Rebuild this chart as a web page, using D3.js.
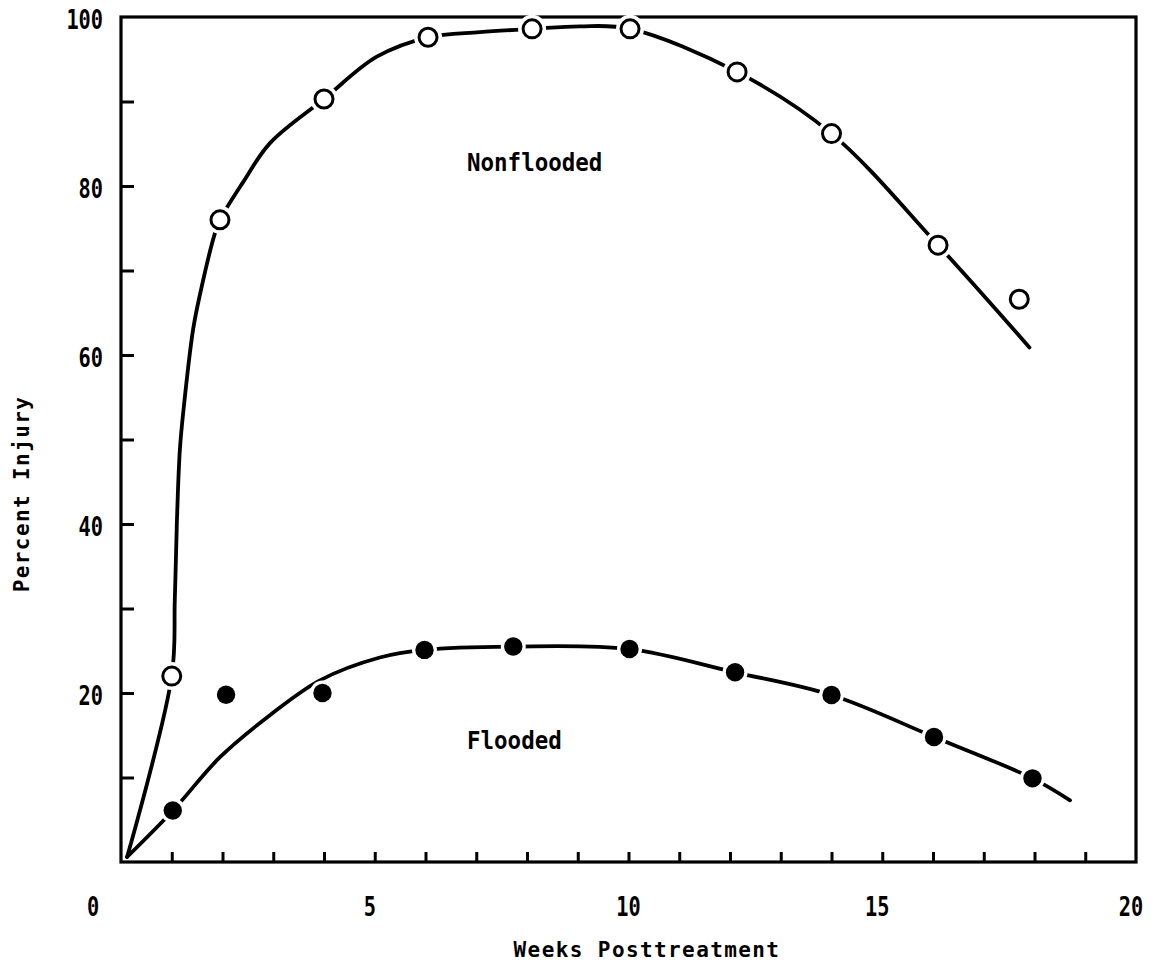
<!DOCTYPE html>
<html>
<head>
<meta charset="utf-8">
<script src="https://cdn.jsdelivr.net/npm/d3@7"></script>
<style>
  html, body { margin: 0; padding: 0; background: #fff; }
  svg { display: block; }
  text { font-family: "DejaVu Sans Mono", "Liberation Mono", monospace; font-weight: bold; fill: #000; }
</style>
</head>
<body>
<svg id="chart" width="1154" height="964"></svg>
<script>
// Observed injury (open circles = nonflooded, filled = flooded)
const nonfloodedWeeks  = [1.0, 1.95, 4.0, 6.05, 8.1, 10.03, 12.14, 14.0, 16.1, 17.7];
const nonfloodedInjury = [22.0, 76.0, 90.3, 97.6, 98.6, 98.6, 93.5, 86.2, 73.0, 66.6];
const floodedWeeks     = [1.02, 2.07, 3.97, 5.98, 7.73, 10.02, 12.1, 14.0, 16.02, 17.96];
const floodedInjury    = [6.1, 19.8, 20.0, 25.1, 25.5, 25.2, 22.45, 19.76, 14.8, 9.9];

// Hand-fitted response curves
const nonfloodedCurveWeeks  = [0.12, 1.0, 1.06, 1.1, 1.16, 1.24, 1.42, 1.55, 1.85, 1.95, 2.4, 2.94, 4.0, 5.04, 6.05, 7.07, 8.1, 9.04, 10.03, 12.14, 14.0, 16.1, 17.9];
const nonfloodedCurveInjury = [0.6, 22.0, 31.0, 40.0, 48.8, 54.0, 63.0, 67.0, 74.4, 76.0, 80.4, 85.1, 90.3, 95.3, 97.6, 98.2, 98.6, 98.9, 98.6, 93.5, 86.2, 73.0, 60.9];
const floodedCurveWeeks     = [0.12, 1.02, 1.95, 2.94, 3.92, 5.1, 5.98, 7.73, 10.02, 12.1, 14.0, 16.02, 17.96, 18.7];
const floodedCurveInjury    = [0.6, 6.07, 12.4, 17.4, 21.5, 24.2, 25.1, 25.5, 25.2, 22.45, 19.76, 14.8, 9.9, 7.3];

// Axis ticks and labels
const xMinorTicks = d3.range(1, 20);
const xTickLabels = [0, 5, 10, 15, 20];
const yMinorTicks = [10, 20, 30, 40, 50, 60, 70, 80, 90];
const yTickLabels = [20, 40, 60, 80, 100];

const svg = d3.select("#chart");
const plotLeft = 121, plotRight = 1136, plotTop = 17, plotBottom = 862;

const x = d3.scaleLinear().domain([0, 20]).range([plotLeft, plotRight]);
const y = d3.scaleLinear().domain([0, 100]).range([plotBottom, plotTop]);

// Inward tick marks
svg.append("g")
  .attr("transform", `translate(0,${plotBottom})`)
  .call(d3.axisBottom(x).tickValues(xMinorTicks).tickSizeInner(-10).tickSizeOuter(0).tickFormat(""))
  .call(g => g.select(".domain").remove())
  .call(g => g.selectAll(".tick line").attr("stroke", "#000").attr("stroke-width", 3));

svg.append("g")
  .attr("transform", `translate(${plotLeft},0)`)
  .call(d3.axisLeft(y).tickValues(yMinorTicks).tickSizeInner(-13).tickSizeOuter(0).tickFormat(""))
  .call(g => g.select(".domain").remove())
  .call(g => g.selectAll(".tick line").attr("stroke", "#000").attr("stroke-width", 3));

// Frame
svg.append("rect")
  .attr("x", x(0)).attr("y", y(100))
  .attr("width", x(20) - x(0)).attr("height", y(0) - y(100))
  .attr("fill", "none").attr("stroke", "#000").attr("stroke-width", 3.2);

// Condensed typewriter-style text helper
function label(g, txt, px, py, size, sx, anchor) {
  return g.append("text")
    .attr("transform", `translate(${px},${py}) scale(${sx},1)`)
    .attr("font-size", size)
    .attr("text-anchor", anchor)
    .attr("dominant-baseline", "central")
    .text(txt);
}

const labels = svg.append("g");
xTickLabels.forEach(v => {
  const dx = v === 0 ? -28 : (v === 10 ? 0 : -5);
  label(labels, String(v), x(v) + dx, 907, 26, 0.78, "middle");
});
yTickLabels.forEach(v => {
  label(labels, String(v), 103, y(v) + 3, 26, 0.78, "end");
});

// Axis titles
svg.append("text")
  .attr("x", 647).attr("y", 950)
  .attr("font-size", 21).attr("letter-spacing", 1.4)
  .attr("text-anchor", "middle").attr("dominant-baseline", "central")
  .text("Weeks Posttreatment");

svg.append("text")
  .attr("transform", "translate(22,494) rotate(-90)")
  .attr("font-size", 21).attr("letter-spacing", 1.4)
  .attr("text-anchor", "middle").attr("dominant-baseline", "central")
  .text("Percent Injury");

// Series labels
label(labels, "Nonflooded", 467, 163, 25, 0.9, "start");
label(labels, "Flooded", 467, 741, 25, 0.9, "start");

// Fitted curves
const line = d3.line()
  .x(d => x(d[0])).y(d => y(d[1]))
  .curve(d3.curveCatmullRom.alpha(0.5));

const nfCurve = d3.zip(nonfloodedCurveWeeks, nonfloodedCurveInjury);
const fCurve = d3.zip(floodedCurveWeeks, floodedCurveInjury);

[nfCurve, fCurve].forEach(c => {
  svg.append("path")
    .attr("d", line(c))
    .attr("fill", "none")
    .attr("stroke", "#000")
    .attr("stroke-width", 3.8)
    .attr("stroke-linecap", "round");
});

// Observed points, with a white gap where the curve meets them
const nfPts = d3.zip(nonfloodedWeeks, nonfloodedInjury);
const fPts = d3.zip(floodedWeeks, floodedInjury);

const marks = svg.append("g");
marks.selectAll(".halo-nf").data(nfPts).join("circle")
  .attr("cx", d => x(d[0])).attr("cy", d => y(d[1])).attr("r", 14).attr("fill", "#fff");
marks.selectAll(".halo-f").data(fPts).join("circle")
  .attr("cx", d => x(d[0])).attr("cy", d => y(d[1])).attr("r", 12.5).attr("fill", "#fff");

marks.selectAll(".nf").data(nfPts).join("circle")
  .attr("cx", d => x(d[0])).attr("cy", d => y(d[1])).attr("r", 9)
  .attr("fill", "#fff").attr("stroke", "#000").attr("stroke-width", 3);
marks.selectAll(".f").data(fPts).join("circle")
  .attr("cx", d => x(d[0])).attr("cy", d => y(d[1])).attr("r", 9.2)
  .attr("fill", "#000");
</script>
</body>
</html>
